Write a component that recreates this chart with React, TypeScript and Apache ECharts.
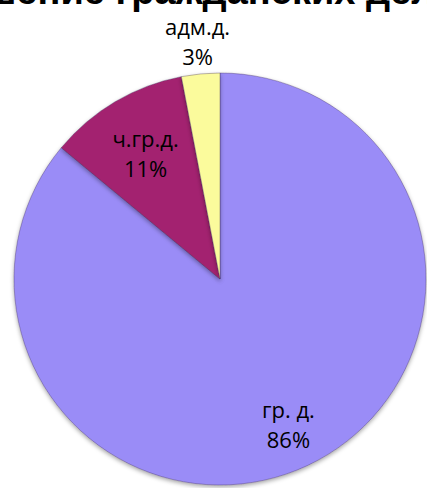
import React, { useEffect, useRef } from "react";
import * as echarts from "echarts";

const titleText = "Соотношение гражданских дел";
const categories = ["гр. д.", "ч.гр.д.", "адм.д."];
const values = [86, 11, 3];
const colors = ["#9A8CF7", "#A3206F", "#FBFB9C"];
// radial placement of each label relative to the pie radius
const labelRadius = [0.78, 0.71, 1.16];

const W = 427;
const H = 488;
const CX = 220;
const CY = 279;
const R = 206;

export default function App() {
  const ref = useRef<HTMLDivElement>(null);
  useEffect(() => {
    if (!ref.current) return;
    const chart = echarts.init(ref.current, null, { renderer: "svg" });
    chart.setOption({
      animation: false,
      backgroundColor: "#ffffff",
      title: {
        text: titleText,
        left: -158,
        top: -33,
        textStyle: {
          fontFamily: "Liberation Sans",
          fontWeight: "bold",
          fontSize: 38,
          color: "#000000",
        },
      },
      series: [
        {
          type: "pie",
          center: [CX, CY],
          radius: R,
          startAngle: 90,
          clockwise: true,
          data: categories.map((name, i) => ({
            name,
            value: values[i],
            itemStyle: { color: colors[i] },
          })),
          itemStyle: {
            borderColor: "rgba(60,40,90,0.35)",
            borderWidth: 1,
            shadowBlur: 4,
            shadowColor: "rgba(0,0,0,0.35)",
            shadowOffsetY: 2,
          },
          label: {
            position: "inside",
            formatter: "{b}\n{d}%",
            fontFamily: "Open Sans",
            fontSize: 22,
            lineHeight: 30,
            color: "#000000",
          },
          labelLine: { show: false },
          labelLayout: (params: any) => {
            const r = params.labelRect;
            const lx = r.x + r.width / 2;
            const ly = r.y + r.height / 2;
            const dx = lx - CX;
            const dy = ly - CY;
            const len = Math.sqrt(dx * dx + dy * dy) || 1;
            const target = labelRadius[params.dataIndex] * R;
            return {
              x: CX + (dx / len) * target,
              y: CY + (dy / len) * target,
            };
          },
        },
      ],
    });
    return () => chart.dispose();
  }, []);
  return (
    <div
      ref={ref}
      style={{ position: "fixed", left: 0, top: 0, width: W, height: H }}
    />
  );
}
